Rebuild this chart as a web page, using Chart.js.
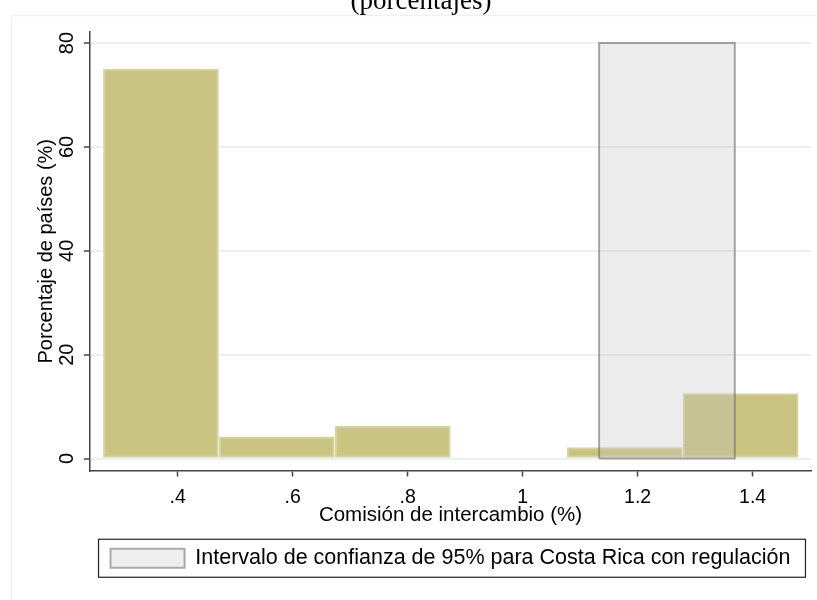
<!DOCTYPE html>
<html lang="es">
<head>
<meta charset="utf-8">
<title>Comisión de intercambio</title>
<script src="https://cdn.jsdelivr.net/npm/chart.js@4.4.1/dist/chart.umd.min.js"></script>
<style>
  html, body { margin: 0; padding: 0; background: #fff; }
  canvas { display: block; }
</style>
</head>
<body>
<canvas id="chart" width="817" height="600"></canvas>
<script>
// histogram bins (commission, %) and share of countries in each bin
const binEdges = [0.27, 0.4717, 0.6733, 0.875, 1.0767, 1.2783, 1.48];
const sharePct = [75, 4.17, 6.25, 0, 2.08, 12.5];

// 95% confidence interval for Costa Rica with regulation
const ciLow = 1.133;
const ciHigh = 1.369;
const ciTop = 80;

const yTicks = [0, 20, 40, 60, 80];
const xTicks = [0.4, 0.6, 0.8, 1, 1.2, 1.4];
const xTickLabels = ['.4', '.6', '.8', '1', '1.2', '1.4'];

const legendText = 'Intervalo de confianza de 95% para Costa Rica con regulación';
const subTitle = '(porcentajes)';

const sans = '"Liberation Sans", Arial, sans-serif';
Chart.defaults.font.family = sans;
Chart.defaults.color = '#000';

const histData = sharePct.map((v, i) => ({ x: (binEdges[i] + binEdges[i + 1]) / 2, y: v }));
const ciData = [[ciLow, 0], [ciLow, ciTop], [ciHigh, ciTop], [ciHigh, 0], [ciLow, 0]]
    .map(([x, y]) => ({ x, y }));

// outer frame, cut-off subtitle, rotated y labels and the legend box
const stataBits = {
    id: 'stataBits',
    beforeDraw(chart) {
        const ctx = chart.ctx;
        ctx.save();
        ctx.strokeStyle = '#EDF1F3';
        ctx.lineWidth = 1.5;
        ctx.strokeRect(11.5, 15.5, 900, 700);
        ctx.restore();
    },
    afterDraw(chart) {
        const ctx = chart.ctx;
        const y = chart.scales.y;

        ctx.save();
        ctx.fillStyle = '#000';
        ctx.font = '27px "Liberation Serif", "Times New Roman", serif';
        ctx.textAlign = 'center';
        ctx.textBaseline = 'alphabetic';
        ctx.fillText(subTitle, 421, 8.5);

        ctx.font = '20px ' + sans;
        yTicks.forEach(v => {
            ctx.save();
            ctx.translate(72.5, y.getPixelForValue(v));
            ctx.rotate(-Math.PI / 2);
            ctx.fillText(String(v), 0, 0);
            ctx.restore();
        });

        const hb = chart.legend.legendHitBoxes[0];
        if (hb) {
            ctx.strokeStyle = '#222';
            ctx.lineWidth = 1.2;
            const cy = hb.top + hb.height / 2;
            ctx.strokeRect(hb.left - 12, cy - 19, hb.width + 27, 38);
        }
        ctx.restore();
    }
};

new Chart('chart', {
    type: 'bar',
    data: {
        datasets: [
            {
                type: 'line',
                label: legendText,
                data: ciData,
                order: 0,
                fill: 'shape',
                backgroundColor: 'rgba(190, 190, 190, 0.29)',
                borderColor: 'rgba(110, 110, 110, 0.6)',
                borderWidth: 2,
                borderJoinStyle: 'miter',
                tension: 0,
                pointRadius: 0,
            },
            {
                label: 'Porcentaje de países',
                data: histData,
                order: 1,
                backgroundColor: '#CAC482',
                borderColor: '#D8D4A2',
                borderWidth: 2,
                borderSkipped: false,
                barPercentage: 1,
                categoryPercentage: 1,
                grouped: false,
            }
        ]
    },
    options: {
        responsive: false,
        animation: false,
        layout: { padding: { top: 32, right: 6, left: 0, bottom: 21 } },
        scales: {
            x: {
                type: 'linear',
                min: 0.2475,
                max: 1.5015,
                offset: false,
                afterBuildTicks: s => { s.ticks = xTicks.map(v => ({ value: v })); },
                afterFit: s => { s.height = 67; },
                ticks: {
                    padding: 9,
                    font: { size: 19.5 },
                    color: '#000',
                    callback: v => xTickLabels[xTicks.indexOf(v)],
                },
                grid: {
                    offset: false,
                    drawOnChartArea: false,
                    tickLength: 6,
                    tickColor: '#444',
                    tickWidth: 1.5,
                },
                border: { color: '#444', width: 1.5 },
                title: {
                    display: true,
                    text: 'Comisión de intercambio (%)',
                    font: { size: 20.5 },
                    color: '#000',
                    padding: { top: 0, bottom: 10 },
                },
            },
            y: {
                type: 'linear',
                min: -2.31,
                max: 82.12,
                afterBuildTicks: s => { s.ticks = yTicks.map(v => ({ value: v })); },
                afterFit: s => { s.width = 90; },
                ticks: { display: false },
                grid: {
                    color: '#EBF0F2',
                    lineWidth: 2,
                    tickLength: 6,
                    tickColor: '#444',
                    tickWidth: 1.5,
                },
                border: { color: '#444', width: 1.5 },
                title: {
                    display: true,
                    text: 'Porcentaje de países (%)',
                    font: { size: 20 },
                    color: '#000',
                    padding: { top: 34, bottom: 0 },
                },
            },
        },
        plugins: {
            tooltip: { enabled: false },
            legend: {
                position: 'bottom',
                fullSize: false,
                onClick: null,
                labels: {
                    boxWidth: 74,
                    boxHeight: 19,
                    padding: 10,
                    font: { size: 21.5 },
                    color: '#000',
                    generateLabels: () => [{
                        text: legendText,
                        fillStyle: '#EEEEEE',
                        strokeStyle: '#AAAAAA',
                        lineWidth: 2,
                        datasetIndex: 0,
                    }],
                },
            },
        },
    },
    plugins: [stataBits],
});
</script>
</body>
</html>
